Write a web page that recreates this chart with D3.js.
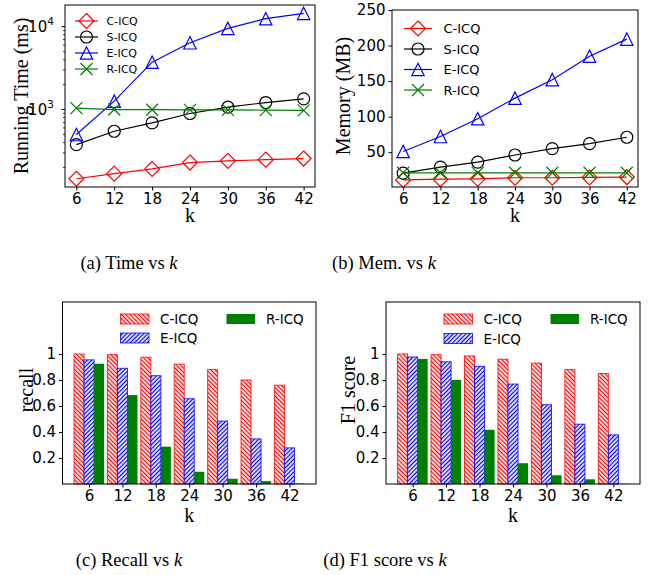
<!DOCTYPE html>
<html>
<head>
<meta charset="utf-8">
<script src="https://cdn.jsdelivr.net/npm/d3@7"></script>
<style>
  body { margin: 0; background: #fff; }
  text { font-family: "DejaVu Sans", sans-serif; }
  .serif { font-family: "Liberation Serif", "Times New Roman", serif; }
</style>
</head>
<body>
<div id="chart"></div>
<script>
const W = 664, H = 575

// data
const kVals = [6, 12, 18, 24, 30, 36, 42]
const methods = ["C-ICQ", "S-ICQ", "E-ICQ", "R-ICQ"]

const timeC = [146, 168, 192, 229, 240, 248, 256]
const timeS = [377, 547, 690, 895, 1067, 1215, 1346]
const timeE = [499, 1262, 3730, 6400, 9550, 12500, 14500]
const timeR = [1040, 1000, 995, 990, 990, 985, 975]

const memC = [11, 12, 12.5, 14, 14, 14.5, 15]
const memS = [20.5, 29, 36, 46, 55, 62, 71]
const memE = [51, 72, 97, 126, 152, 185, 209]
const memR = [21, 21, 21, 21, 21, 21, 21]

const barMethods = ["C-ICQ", "E-ICQ", "R-ICQ"]
const recallC = [1.0, 0.995, 0.975, 0.922, 0.88, 0.80, 0.76]
const recallE = [0.955, 0.89, 0.833, 0.656, 0.484, 0.347, 0.278]
const recallR = [0.925, 0.684, 0.287, 0.094, 0.04, 0.022, 0.003]

const f1C = [1.0, 0.995, 0.985, 0.96, 0.93, 0.88, 0.85]
const f1E = [0.977, 0.94, 0.905, 0.769, 0.61, 0.46, 0.378]
const f1R = [0.962, 0.80, 0.417, 0.16, 0.067, 0.036, 0.002]

const yBarTicks = [0.2, 0.4, 0.6, 0.8, 1]
const memTicks = [50, 100, 150, 200, 250]

const colors = { "C-ICQ": "red", "S-ICQ": "black", "E-ICQ": "blue", "R-ICQ": "green" }
const markers = { "C-ICQ": "diamond", "S-ICQ": "circle", "E-ICQ": "triangle", "R-ICQ": "x" }

const svg = d3.select("#chart").append("svg")
    .attr("width", W)
    .attr("height", H)

// hatch patterns
const defs = svg.append("defs")
function hatch(id, color, angle) {
    const p = defs.append("pattern")
        .attr("id", id)
        .attr("patternUnits", "userSpaceOnUse")
        .attr("width", 3).attr("height", 3)
        .attr("patternTransform", "rotate(" + angle + ")")
    p.append("rect").attr("width", 3).attr("height", 3).attr("fill", "white")
    p.append("line").attr("x1", 1.5).attr("x2", 1.5).attr("y1", 0).attr("y2", 3)
        .attr("stroke", color).attr("stroke-width", 1.3)
}
hatch("hatchRed", "red", -45)
hatch("hatchBlue", "blue", 45)
const barFill = { "C-ICQ": "url(#hatchRed)", "E-ICQ": "url(#hatchBlue)", "R-ICQ": "green" }
const barEdge = { "C-ICQ": "red", "E-ICQ": "blue", "R-ICQ": "none" }

function drawMarker(g, type, x, y, color) {
    if (type == "circle") {
        g.append("circle").attr("cx", x).attr("cy", y).attr("r", 6)
            .attr("fill", "none").attr("stroke", color).attr("stroke-width", 1.2)
    } else if (type == "diamond") {
        const r = 7.5
        g.append("path").attr("d", `M${x},${y - r}L${x + r},${y}L${x},${y + r}L${x - r},${y}Z`)
            .attr("fill", "none").attr("stroke", color).attr("stroke-width", 1.2)
    } else if (type == "triangle") {
        const r = 6.2
        g.append("path").attr("d", `M${x},${y - r}L${x + r},${y + r}L${x - r},${y + r}Z`)
            .attr("fill", "none").attr("stroke", color).attr("stroke-width", 1.2)
    } else {
        const r = 6
        g.append("path").attr("d", `M${x - r},${y - r}L${x + r},${y + r}M${x - r},${y + r}L${x + r},${y - r}`)
            .attr("fill", "none").attr("stroke", color).attr("stroke-width", 1.2)
    }
}

function frame(g, box) {
    g.append("rect")
        .attr("x", box.l).attr("y", box.t)
        .attr("width", box.r - box.l).attr("height", box.b - box.t)
        .attr("fill", "none").attr("stroke", "black").attr("stroke-width", 1)
}

function styleAxis(ax) {
    ax.select(".domain").remove()
    ax.selectAll(".tick line").attr("stroke", "black").attr("stroke-width", 1)
    ax.selectAll(".tick text").attr("fill", "black")
        .style("font-family", "DejaVu Sans").style("font-size", "15px")
}

function caption(x, y, label, rest) {
    const t = svg.append("text").attr("class", "serif")
        .attr("x", x).attr("y", y).attr("text-anchor", "middle")
        .style("font-size", "18.5px").attr("fill", "black")
    t.append("tspan").text(label + " " + rest + " vs ")
    t.append("tspan").attr("font-style", "italic").text("k")
}

function xLabel(box, y) {
    svg.append("text").attr("class", "serif")
        .attr("x", (box.l + box.r) / 2).attr("y", y)
        .attr("text-anchor", "middle").style("font-size", "20px")
        .text("k")
}

function yLabel(x, y, txt) {
    svg.append("text").attr("class", "serif")
        .attr("transform", "translate(" + x + "," + y + ") rotate(-90)")
        .attr("text-anchor", "middle").style("font-size", "20px")
        .text(txt)
}

// ---------- line charts ----------
function drawLines(box, yScale, series, legend) {
    const g = svg.append("g")
    const x = d3.scaleLinear().domain([4.2, 43.8]).range([box.l, box.r])

    const line = d3.line().x((d, i) => x(kVals[i])).y(d => yScale(d))
    series.forEach((vals, si) => {
        const m = methods[si]
        g.append("path").datum(vals).attr("d", line)
            .attr("fill", "none").attr("stroke", colors[m]).attr("stroke-width", 1.2)
        vals.forEach((v, i) => drawMarker(g, markers[m], x(kVals[i]), yScale(v), colors[m]))
    })

    const ax = g.append("g").attr("transform", "translate(0," + box.b + ")")
        .call(d3.axisBottom(x).tickValues(kVals).tickSizeOuter(0).tickSize(3.5).tickPadding(3))
    styleAxis(ax)
    frame(g, box)

    // legend
    methods.forEach((m, i) => {
        const y = legend.y + i * legend.dy
        g.append("line").attr("x1", legend.x1).attr("x2", legend.x2)
            .attr("y1", y).attr("y2", y).attr("stroke", colors[m]).attr("stroke-width", 1.2)
        drawMarker(g, markers[m], (legend.x1 + legend.x2) / 2, y, colors[m])
        g.append("text").attr("x", legend.tx).attr("y", y)
            .attr("dominant-baseline", "central")
            .style("font-size", legend.fs + "px").text(m)
    })
    return g
}

// (a) Time
const boxA = { l: 65, r: 315, t: 5, b: 187 }
const yA = d3.scaleLog().domain([116, 18300]).range([boxA.b, boxA.t])
const gA = drawLines(boxA, yA, [timeC, timeS, timeE, timeR],
    { x1: 75, x2: 98, tx: 106.5, y: 21, dy: 16, fs: 11 })
// log y axis: majors and minors
const minorA = []
for (let e = 2; e <= 4; e++) for (let m = 1; m <= 9; m++) {
    const v = m * Math.pow(10, e)
    if (v >= 116 && v <= 18300 && m != 1) minorA.push(v)
}
gA.append("g").selectAll("line").data(minorA).enter().append("line")
    .attr("x1", boxA.l - 2).attr("x2", boxA.l).attr("y1", d => yA(d)).attr("y2", d => yA(d))
    .attr("stroke", "black").attr("stroke-width", 0.8)
;[1000, 10000].forEach((v, i) => {
    gA.append("line").attr("x1", boxA.l - 3.5).attr("x2", boxA.l)
        .attr("y1", yA(v)).attr("y2", yA(v)).attr("stroke", "black")
    const t = gA.append("text").attr("x", boxA.l - 24).attr("y", yA(v) + 5.5)
        .attr("text-anchor", "middle").style("font-size", "15px")
    t.append("tspan").text("10")
    t.append("tspan").attr("dy", -7).style("font-size", "10.5px").text(i == 0 ? "3" : "4")
})
yLabel(28, 96, "Running Time (ms)")
xLabel(boxA, 222)

// (b) Memory
const boxB = { l: 392, r: 638, t: 10, b: 187 }
const yB = d3.scaleLinear().domain([1, 250]).range([boxB.b, boxB.t])
const gB = drawLines(boxB, yB, [memC, memS, memE, memR],
    { x1: 404, x2: 432, tx: 443.5, y: 28.5, dy: 20.5, fs: 13 })
const axB = gB.append("g").attr("transform", "translate(" + boxB.l + ",0)")
    .call(d3.axisLeft(yB).tickValues(memTicks).tickSize(3.5).tickPadding(3))
styleAxis(axB)
yLabel(350, 96, "Memory (MB)")
xLabel(boxB, 222)

// ---------- bar charts ----------
function drawBars(box, series, ylab, ylabX, legend) {
    const g = svg.append("g")
    const x = d3.scaleLinear().domain([-0.795, 6.795]).range([box.l, box.r])
    const y = d3.scaleLinear().domain([0, 1.4]).range([box.b, box.t])
    const bw = 0.3

    series.forEach((vals, si) => {
        const m = barMethods[si]
        g.selectAll("rect.b" + si).data(vals).enter().append("rect")
            .attr("class", "b" + si)
            .attr("x", (d, i) => x(i + (si - 1) * bw - bw / 2))
            .attr("width", x(bw) - x(0))
            .attr("y", d => y(d))
            .attr("height", d => y(0) - y(d))
            .attr("fill", barFill[m])
            .attr("stroke", barEdge[m]).attr("stroke-width", 1)
            .attr("stroke-opacity", 0.8)
    })

    const axX = g.append("g").attr("transform", "translate(0," + box.b + ")")
        .call(d3.axisBottom(x).tickValues(d3.range(kVals.length))
            .tickFormat(i => kVals[i]).tickSize(3.5).tickPadding(3))
    styleAxis(axX)
    const axY = g.append("g").attr("transform", "translate(" + box.l + ",0)")
        .call(d3.axisLeft(y).tickValues(yBarTicks).tickFormat(d => d == 1 ? "1" : d3.format(".1f")(d))
            .tickSize(3.5).tickPadding(3))
    styleAxis(axY)
    frame(g, box)

    // legend (2 columns)
    const pos = { "C-ICQ": [legend.x1, legend.y1], "E-ICQ": [legend.x1, legend.y2], "R-ICQ": [legend.x2, legend.y1] }
    barMethods.forEach(m => {
        const [px, py] = pos[m]
        g.append("rect").attr("x", px).attr("y", py - 5).attr("width", 28.5).attr("height", 10)
            .attr("fill", barFill[m]).attr("stroke", barEdge[m]).attr("stroke-width", 1)
            .attr("stroke-opacity", 0.8)
        g.append("text").attr("x", px + 39.5).attr("y", py)
            .attr("dominant-baseline", "central")
            .style("font-size", "13.5px").text(m)
    })

    yLabel(ylabX, (box.t + box.b) / 2 - 3, ylab)
    xLabel(box, 522)
}

const boxC = { l: 62.5, r: 316, t: 302, b: 484 }
drawBars(boxC, [recallC, recallE, recallR], "recall", 33,
    { x1: 120.5, x2: 226.5, y1: 319, y2: 338 })

const boxD = { l: 386, r: 640, t: 302, b: 484 }
drawBars(boxD, [f1C, f1E, f1R], "F1 score", 355,
    { x1: 444, x2: 550.5, y1: 319, y2: 338.5 })

// captions
caption(129, 269, "(a)", "Time")
caption(384, 269, "(b)", "Mem.")
caption(129, 566, "(c)", "Recall")
caption(385, 566, "(d)", "F1 score")
</script>
</body>
</html>
